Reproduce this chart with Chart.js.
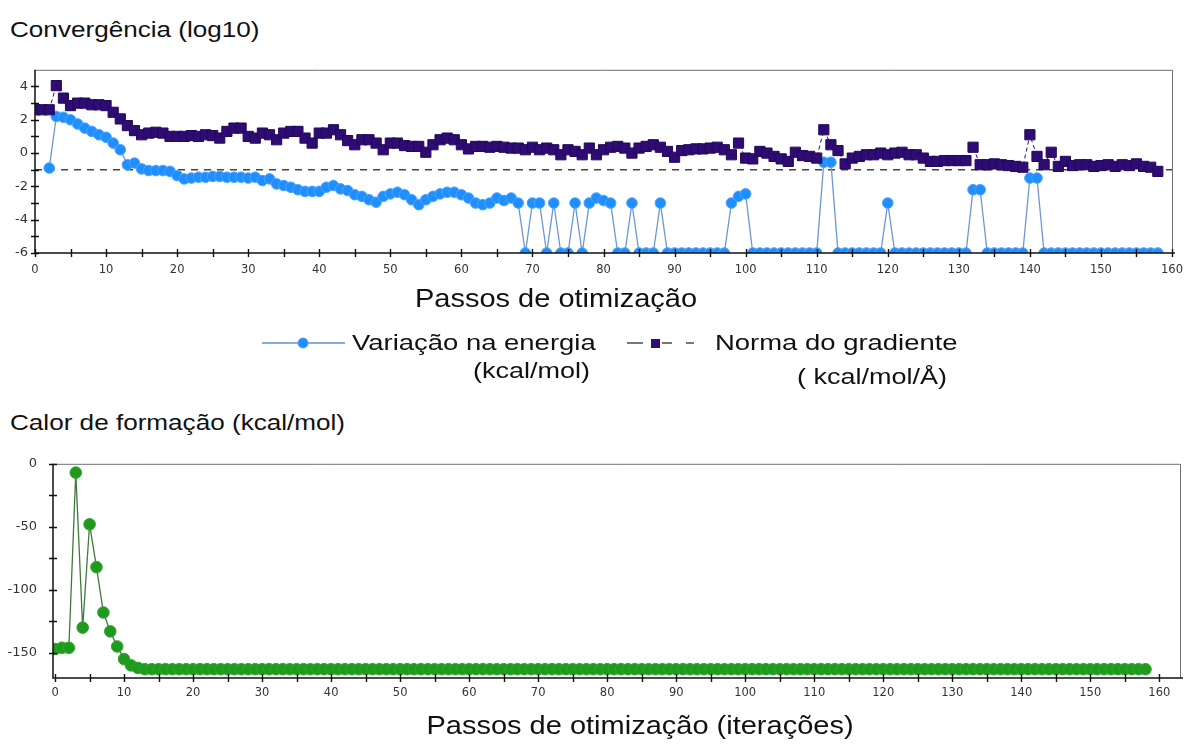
<!DOCTYPE html>
<html>
<head>
<meta charset="utf-8">
<script src="https://cdn.jsdelivr.net/npm/chart.js@4.4.1/dist/chart.umd.min.js"></script>
<style>
  html, body { margin:0; padding:0; background:#fff; }
  body { width:1193px; height:753px; position:relative; overflow:hidden; font-family:"Liberation Sans", Arial, sans-serif; color:#111; }
  .t { position:absolute; white-space:nowrap; line-height:1; font-size:22.5px; }
  .tl { transform-origin:left center; transform:translateY(-50%) scaleX(1.16); }
  .tc { transform-origin:center center; transform:translate(-50%,-50%) scaleX(1.16); }
  .tr { transform-origin:right center; transform:translate(-100%,-50%) scaleX(1.2); }
  .lg { transform-origin:left center; transform:translateY(-50%) scaleX(1.22); }
  #c1wrap { position:absolute; left:0; top:55px; width:1193px; height:232px; }
  #c2wrap { position:absolute; left:0; top:440px; width:1193px; height:272px; }
  svg.leg { position:absolute; left:0; top:0; }
</style>
</head>
<body>
<div class="t tl" style="left:10px; top:30px;">Convergência (log10)</div>
<div id="c1wrap"><canvas id="c1" width="1193" height="232"></canvas></div>
<div class="t tc" style="left:556px; top:298px; font-size:25px;">Passos de otimização</div>

<svg class="leg" width="1193" height="400">
  <line x1="262" y1="343" x2="345" y2="343" stroke="#5f92d3" stroke-width="1.6"/>
  <circle cx="303" cy="343" r="5" fill="#1f8fff" stroke="#4aa3ff" stroke-width="1"/>
  <line x1="627" y1="343" x2="643" y2="343" stroke="#555" stroke-width="1.6"/>
  <rect x="651" y="339" width="9" height="9" fill="#2e0c73"/>
  <line x1="662" y1="343" x2="672" y2="343" stroke="#555" stroke-width="1.6"/>
  <line x1="686" y1="343" x2="694" y2="343" stroke="#555" stroke-width="1.6"/>
</svg>
<div class="t lg" style="left:352px; top:343px;">Variação na energia</div>
<div class="t tr" style="left:590px; top:371px;">(kcal/mol)</div>
<div class="t lg" style="left:715px; top:343px;">Norma do gradiente</div>
<div class="t tr" style="left:947px; top:377px;">( kcal/mol/Å)</div>

<div class="t tl" style="left:10px; top:423px;">Calor de formação (kcal/mol)</div>
<div id="c2wrap"><canvas id="c2" width="1193" height="272"></canvas></div>
<div class="t tc" style="left:640px; top:725px; font-size:25px;">Passos de otimização (iterações)</div>

<script>
// ---------- data ----------
const steps = Array.from({length:159}, (_, i) => i);

// log10 of energy change (kcal/mol); first two steps have no value
const energyChange = [
  null, null, -0.9, 2.2, 2.15, 2.0, 1.75, 1.5, 1.3, 1.1,
  0.95, 0.6, 0.2, -0.7, -0.6, -0.95, -1.05, -1.05, -1.05, -1.1,
  -1.35, -1.55, -1.5, -1.45, -1.45, -1.4, -1.4, -1.45, -1.45, -1.45,
  -1.5, -1.45, -1.65, -1.55, -1.85, -1.95, -2.05, -2.2, -2.3, -2.3,
  -2.3, -2.05, -1.95, -2.15, -2.25, -2.5, -2.6, -2.8, -2.95, -2.6,
  -2.45, -2.35, -2.5, -2.8, -3.1, -2.8, -2.6, -2.45, -2.35, -2.35,
  -2.5, -2.7, -3.0, -3.1, -3.0, -2.7, -2.85, -2.7, -3.0, -6,
  -3.0, -3.0, -6, -3.0, -6, -6, -3.0, -6, -3.0, -2.7,
  -2.85, -3.0, -6, -6, -3.0, -6, -6, -6, -3.0, -6,
  -6, -6, -6, -6, -6, -6, -6, -6, -3.0, -2.6,
  -2.45, -6, -6, -6, -6, -6, -6, -6, -6, -6,
  -6, -0.55, -0.55, -6, -6, -6, -6, -6, -6, -6,
  -3.0, -6, -6, -6, -6, -6, -6, -6, -6, -6,
  -6, -6, -2.2, -2.2, -6, -6, -6, -6, -6, -6,
  -1.5, -1.5, -6, -6, -6, -6, -6, -6, -6, -6,
  -6, -6, -6, -6, -6, -6, -6, -6, -6
];

// log10 of gradient norm (kcal/mol/Å)
const gradientNorm = [
  2.6, 2.6, 2.6, 4.05, 3.3, 2.85, 3.0, 3.0, 2.9, 2.9,
  2.85, 2.45, 2.05, 1.65, 1.35, 1.1, 1.2, 1.25, 1.2, 1.0,
  1.0, 1.0, 1.05, 1.0, 1.1, 1.05, 0.9, 1.3, 1.5, 1.5,
  1.0, 0.9, 1.2, 1.1, 0.8, 1.2, 1.3, 1.3, 0.9, 0.6,
  1.2, 1.2, 1.4, 1.1, 0.75, 0.5, 0.8, 0.8, 0.6, 0.2,
  0.6, 0.6, 0.45, 0.4, 0.4, 0.05, 0.5, 0.8, 0.9, 0.8,
  0.5, 0.25, 0.4, 0.4, 0.35, 0.4, 0.35, 0.3, 0.3, 0.2,
  0.35, 0.2, 0.3, 0.2, -0.1, 0.2, 0.1, -0.1, 0.3, -0.1,
  0.2, 0.35, 0.4, 0.3, 0.0, 0.3, 0.4, 0.5, 0.35, 0.1,
  -0.25, 0.15, 0.2, 0.25, 0.25, 0.3, 0.35, 0.2, -0.1, 0.6,
  -0.3, -0.35, 0.1, 0.0, -0.2, -0.35, -0.5, 0.05, -0.15, -0.2,
  -0.3, 1.4, 0.5, 0.15, -0.65, -0.3, -0.2, -0.1, -0.1, 0.0,
  -0.1, 0.0, 0.05, -0.1, -0.1, -0.3, -0.5, -0.5, -0.45, -0.45,
  -0.45, -0.45, 0.35, -0.7, -0.7, -0.65, -0.7, -0.75, -0.8, -0.85,
  1.1, -0.2, -0.7, 0.05, -0.8, -0.5, -0.75, -0.7, -0.7, -0.8,
  -0.75, -0.7, -0.8, -0.7, -0.75, -0.65, -0.8, -0.85, -1.1
];

// convergence threshold line (log10)
const thresholdX = [0, 160];
const thresholdY = [-1, -1];

// heat of formation (kcal/mol)
const heatOfFormation = [
  -147, -146, -146, -7, -130, -48, -82, -118, -133, -145,
  -155, -160, -162, -163, -163, -163, -163, -163, -163, -163,
  -163, -163, -163, -163, -163, -163, -163, -163, -163, -163,
  -163, -163, -163, -163, -163, -163, -163, -163, -163, -163,
  -163, -163, -163, -163, -163, -163, -163, -163, -163, -163,
  -163, -163, -163, -163, -163, -163, -163, -163, -163, -163,
  -163, -163, -163, -163, -163, -163, -163, -163, -163, -163,
  -163, -163, -163, -163, -163, -163, -163, -163, -163, -163,
  -163, -163, -163, -163, -163, -163, -163, -163, -163, -163,
  -163, -163, -163, -163, -163, -163, -163, -163, -163, -163,
  -163, -163, -163, -163, -163, -163, -163, -163, -163, -163,
  -163, -163, -163, -163, -163, -163, -163, -163, -163, -163,
  -163, -163, -163, -163, -163, -163, -163, -163, -163, -163,
  -163, -163, -163, -163, -163, -163, -163, -163, -163, -163,
  -163, -163, -163, -163, -163, -163, -163, -163, -163, -163,
  -163, -163, -163, -163, -163, -163, -163, -163, -163
];

// tick values and labelled ticks
const xTickValues = [0,5,10,15,20,25,30,35,40,45,50,55,60,65,70,75,80,85,90,95,100,105,110,115,120,125,130,135,140,145,150,155,160];
const xTickLabels = [0,10,20,30,40,50,60,70,80,90,100,110,120,130,140,150,160];
const convYTickValues = [-6,-5,-4,-3,-2,-1,0,1,2,3,4];
const convYTickLabels = [-6,-4,-2,0,2,4];
const heatYTickValues = [-150,-125,-100,-75,-50,-25,0];
const heatYTickLabels = [-150,-100,-50,0];

// ---------- helpers ----------
const toXY = arr => arr.map((v, i) => ({x: steps[i], y: v}));

const frameTicks = {
  id: 'frameTicks',
  afterDatasetsDraw(chart) {
    const {ctx, chartArea: a, scales: {x, y}} = chart;
    ctx.save();
    ctx.strokeStyle = '#6e6e6e';
    ctx.lineWidth = 1;
    ctx.beginPath();
    ctx.moveTo(a.left, a.top + 0.5); ctx.lineTo(a.right + 0.5, a.top + 0.5); ctx.lineTo(a.right + 0.5, a.bottom);
    ctx.stroke();
    ctx.strokeStyle = '#111';
    ctx.lineWidth = 1.5;
    ctx.beginPath();
    ctx.moveTo(a.left, a.top); ctx.lineTo(a.left, a.bottom); ctx.lineTo(a.right + 3, a.bottom);
    ctx.stroke();
    ctx.lineWidth = 1.4;
    ctx.beginPath();
    x.ticks.forEach(t => { const p = Math.round(x.getPixelForValue(t.value)) + 0.5; ctx.moveTo(p, a.bottom - 4); ctx.lineTo(p, a.bottom + 4); });
    y.ticks.forEach(t => { const p = Math.round(y.getPixelForValue(t.value)) + 0.5; ctx.moveTo(a.left - 4, p); ctx.lineTo(a.left + 4, p); });
    ctx.stroke();
    ctx.restore();
  }
};

const tickFontX = {family: '"DejaVu Sans", Verdana, sans-serif', size: 11.5};
const tickFontY = {family: '"DejaVu Sans", Verdana, sans-serif', size: 13};

function xScale(min, max, height, pad) {
  return {
    type: 'linear', min, max,
    grid: {display: false, drawTicks: false},
    border: {display: false},
    afterBuildTicks: s => { s.ticks = xTickValues.map(v => ({value: v})); },
    afterFit: s => { s.height = height; },
    ticks: {
      autoSkip: false, maxRotation: 0, padding: pad, color: '#333', font: tickFontX,
      callback: v => xTickLabels.includes(v) ? String(v) : ''
    }
  };
}
function yScale(min, max, vals, labels, width, pad) {
  return {
    type: 'linear', min, max,
    grid: {display: false, drawTicks: false},
    border: {display: false},
    afterBuildTicks: s => { s.ticks = vals.map(v => ({value: v})); },
    afterFit: s => { s.width = width; },
    ticks: {
      autoSkip: false, padding: pad, color: '#333', font: tickFontY,
      callback: v => labels.includes(v) ? String(v) : ''
    }
  };
}

const common = {
  responsive: false,
  maintainAspectRatio: false,
  animation: false,
  events: [],
  plugins: {legend: {display: false}, tooltip: {enabled: false}},
};

// ---------- chart 1: convergence ----------
new Chart(document.getElementById('c1'), {
  type: 'line',
  data: {
    datasets: [
      {
        label: 'Norma do gradiente (kcal/mol/Å)',
        data: toXY(gradientNorm),
        borderColor: '#2e0c73', borderWidth: 1, borderDash: [4, 3],
        pointStyle: 'rect', pointRadius: 7.2,
        pointBackgroundColor: '#2e0c73', pointBorderColor: '#23095e', pointBorderWidth: 1,
        tension: 0, order: 1
      },
      {
        label: 'Variação na energia (kcal/mol)',
        data: toXY(energyChange),
        borderColor: '#6a98d2', borderWidth: 1.3,
        pointStyle: 'circle', pointRadius: 5.3,
        pointBackgroundColor: '#1f8fff', pointBorderColor: '#4aa3ff', pointBorderWidth: 1,
        tension: 0, order: 2
      },
      {
        label: 'limite',
        data: thresholdX.map((x, i) => ({x, y: thresholdY[i]})),
        borderColor: '#444', borderWidth: 1.4, borderDash: [7, 6],
        pointRadius: 0, order: 3
      }
    ]
  },
  options: Object.assign({}, common, {
    layout: {padding: {top: 6, right: 15, left: 0, bottom: 0}},
    scales: {
      x: xScale(0, 160, 34, 10),
      y: yScale(-6, 5, convYTickValues, convYTickLabels, 35, 7)
    }
  }),
  plugins: [frameTicks]
});

// ---------- chart 2: heat of formation ----------
new Chart(document.getElementById('c2'), {
  type: 'line',
  data: {
    datasets: [
      {
        label: 'Calor de formação (kcal/mol)',
        data: toXY(heatOfFormation),
        borderColor: '#3f7a3a', borderWidth: 1.3,
        pointStyle: 'circle', pointRadius: 5.8,
        pointBackgroundColor: '#1f9a1f', pointBorderColor: '#2aa82a', pointBorderWidth: 1,
        tension: 0
      }
    ]
  },
  options: Object.assign({}, common, {
    layout: {padding: {top: 12, right: 13, left: 0, bottom: 0}},
    scales: {
      x: xScale(-0.3, 163, 34, 8),
      y: yScale(-170, 0, heatYTickValues, heatYTickLabels, 53, 16)
    }
  }),
  plugins: [frameTicks]
});
</script>
</body>
</html>
